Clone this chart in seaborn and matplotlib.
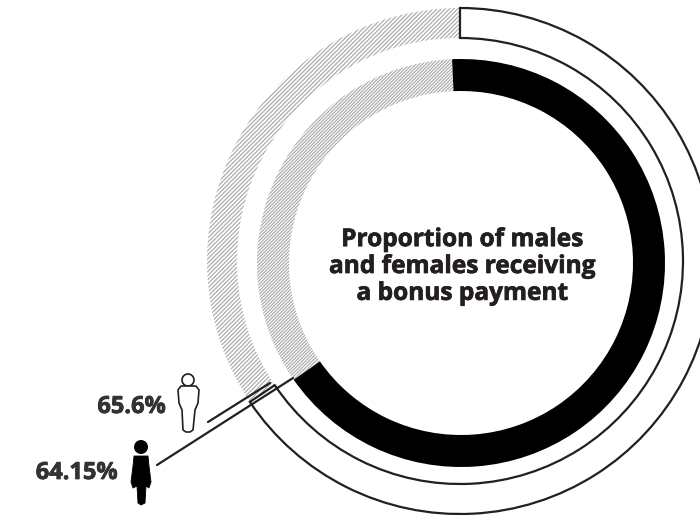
import matplotlib
matplotlib.use("Agg")
import matplotlib.pyplot as plt
import matplotlib.patheffects as pe
import seaborn as sns
from matplotlib.patches import Circle, Polygon

# Ring shares, read off the arcs (bonus, no bonus)
male_ring = [65.6, 34.4]
female_ring = [66.0, 34.0]
labels = ["65.6%", "64.15%"]
title = "Proportion of males\nand females receiving\na bonus payment"

INK = "#231f20"
HATCH = "#ababab"
H = 515

sns.set_theme(style="white")
plt.rcParams["font.family"] = ["Open Sans", "DejaVu Sans"]
plt.rcParams["hatch.linewidth"] = 0.85

fig = plt.figure(figsize=(7, 5.15), dpi=100)
ax = fig.add_axes([0, 0, 1, 1])


def flip(points):
    # icon outlines are noted in image pixels, y going down
    return [(x, H - y) for x, y in points]


# Outer ring (males)
outer, _ = ax.pie(male_ring, center=(460, H - 261), radius=253, startangle=90,
                  counterclock=False, frame=False,
                  wedgeprops={"width": 30})
outer[0].set(facecolor="white", edgecolor=INK, linewidth=1.6, zorder=3)
outer[1].set(facecolor="white", edgecolor=HATCH, linewidth=0, hatch="/" * 8, zorder=2)

# Inner ring (females)
inner, _ = ax.pie(female_ring, center=(461, H - 263), radius=204, startangle=92.5,
                  counterclock=False, frame=False,
                  wedgeprops={"width": 32})
inner[0].set(facecolor="black", edgecolor="black", linewidth=0, zorder=3)
inner[1].set(facecolor="white", edgecolor=HATCH, linewidth=0, hatch="/" * 10, zorder=2)

ax.set_xlim(0, 700)
ax.set_ylim(0, H)
ax.set_aspect("equal")
ax.axis("off")

# Leader lines
ax.plot([208, 270], [H - 422, H - 383], color=INK, lw=1.6, zorder=4)
ax.plot([157, 293], [H - 465, H - 378], color=INK, lw=1.6, zorder=4)

# Male icon
ax.add_patch(Circle((188, H - 380), 6, fc="white", ec=INK, lw=1.2, zorder=4))
male_shape = [(181, 386), (196, 386), (199, 390), (198, 403), (195, 410), (193, 430),
              (190, 432), (186, 432), (183, 430), (182, 410), (179, 403), (178, 390)]
ax.add_patch(Polygon(flip(male_shape), closed=True, fc="white", ec=INK, lw=1.2,
                     joinstyle="round", zorder=4))

# Female icon
ax.add_patch(Circle((141, H - 447), 7, fc="black", ec="none", zorder=4))
female_shape = [(134, 456), (148, 456), (149, 466), (151, 482), (149, 488), (146, 486),
                (145, 503), (141, 505), (138, 503), (137, 486), (133, 488),
                (131, 482), (133, 466)]
ax.add_patch(Polygon(flip(female_shape), closed=True, fc="black", ec="black", lw=0.6,
                     joinstyle="round", zorder=4))

# Text, thickened a little with a stroke
heavy = [pe.withStroke(linewidth=0.5, foreground=INK)]
ax.text(462, H - 267, title, ha="center", va="center", fontsize=17.6, fontweight="bold",
        color=INK, linespacing=1.16, zorder=5, path_effects=heavy)
ax.text(166, H - 407, labels[0], ha="right", va="center", fontsize=17, fontweight="bold",
        color="#333333", zorder=5, path_effects=heavy)
ax.text(118, H - 473, labels[1], ha="right", va="center", fontsize=17, fontweight="bold",
        color="#333333", zorder=5, path_effects=heavy)

fig.savefig("out.png", dpi=100)
